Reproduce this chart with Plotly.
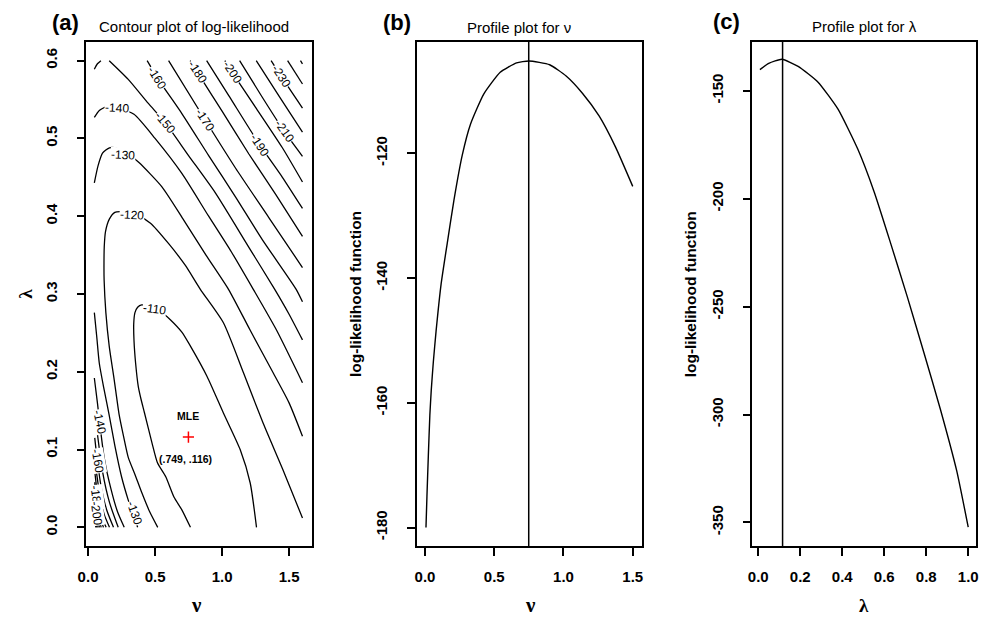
import plotly.graph_objects as go

# ---------------- data ----------------
# Panel (a): contour lines of the log-likelihood, traced as (nu, lambda) points.
# None separates the upper/right piece of a level from its lower-left piece.
c110_nu = [0.764, 0.70, 0.641, 0.58, 0.518, 0.478, 0.42, 0.395, 0.375, 0.355, 0.343, 0.341, 0.35, 0.37,
           0.40, 0.49, 0.56, 0.614, 0.70, 0.764, 0.888, 1.01, 1.135, 1.21, 1.257]
c110_lam = [0.0, 0.0225, 0.039, 0.065, 0.083, 0.108, 0.148, 0.165, 0.181, 0.211, 0.24, 0.262, 0.276, 0.283,
            0.286, 0.282, 0.275, 0.267, 0.251, 0.233, 0.194, 0.147, 0.100, 0.057, 0.0]
c120_nu = [0.52, 0.46, 0.40, 0.35, 0.30, 0.265, 0.232, 0.195, 0.158, 0.133, 0.12, 0.119, 0.121, 0.13, 0.158,
           0.20, 0.28, 0.36, 0.466, 0.60, 0.725, 0.838, 1.01, 1.159, 1.306, 1.454, 1.60]
c120_lam = [0.0, 0.02, 0.045, 0.068, 0.09, 0.117, 0.145, 0.19, 0.233, 0.276, 0.318, 0.34, 0.361, 0.38, 0.396,
            0.405, 0.406, 0.402, 0.391, 0.365, 0.337, 0.306, 0.263, 0.199, 0.134, 0.074, 0.012]
c130_nu = [0.047, 0.075, 0.108, 0.16, 0.22, 0.30, 0.38, 0.55, 0.714, 0.88, 1.048, 1.208, 1.38, 1.5, 1.6, None,
           0.047, 0.065, 0.084, 0.12, 0.157, 0.20, 0.25, 0.30, 0.37]
c130_lam = [0.443, 0.465, 0.481, 0.488, 0.487, 0.48, 0.469, 0.438, 0.395, 0.35, 0.306, 0.254, 0.199, 0.16, 0.117, None,
            0.276, 0.245, 0.211, 0.177, 0.145, 0.105, 0.065, 0.035, 0.0]
c140_nu = [0.047, 0.084, 0.14, 0.22, 0.343, 0.5, 0.7, 0.9, 1.07, 1.233, 1.405, 1.6, None,
           0.047, 0.07, 0.09, 0.12, 0.17, 0.22, 0.27]
c140_lam = [0.527, 0.536, 0.541, 0.539, 0.531, 0.5, 0.455, 0.4, 0.354, 0.306, 0.254, 0.186, None,
            0.192, 0.16, 0.13, 0.09, 0.05, 0.02, 0.0]
c150_nu = [0.047, 0.07, 0.096, None, 0.158, 0.3, 0.45, 0.577, 0.75, 0.95, 1.2, 1.393, 1.5, 1.6, None,
           0.05, 0.07, 0.11, 0.16, 0.225]
c150_lam = [0.589, 0.596, 0.6, None, 0.6, 0.576, 0.545, 0.52, 0.478, 0.43, 0.36, 0.306, 0.274, 0.241, None,
            0.15, 0.12, 0.07, 0.032, 0.0]
c160_nu = [0.441, 0.528, 0.7, 0.9, 1.1, 1.3, 1.553, 1.6, None, 0.05, 0.07, 0.10, 0.14, 0.19]
c160_lam = [0.6, 0.575, 0.532, 0.478, 0.425, 0.37, 0.306, 0.29, None, 0.115, 0.085, 0.05, 0.022, 0.0]
c170_nu = [0.601, 0.873, 1.1, 1.35, 1.6, None, 0.05, 0.065, 0.09, 0.12, 0.16]
c170_lam = [0.6, 0.524, 0.462, 0.398, 0.334, None, 0.09, 0.068, 0.04, 0.017, 0.0]
c180_nu = [0.762, 0.82, 1.0, 1.2, 1.4, 1.6, None, 0.05, 0.065, 0.085, 0.105, 0.135]
c180_lam = [0.6, 0.584, 0.535, 0.48, 0.428, 0.374, None, 0.072, 0.05, 0.028, 0.012, 0.0]
c190_nu = [0.885, 1.05, 1.28, 1.45, 1.6, None, 0.05, 0.06, 0.08, 0.115]
c190_lam = [0.6, 0.555, 0.492, 0.45, 0.41, None, 0.058, 0.042, 0.02, 0.0]
c200_nu = [1.021, 1.075, 1.25, 1.45, 1.6, None, 0.05, 0.06, 0.075, 0.098]
c200_lam = [0.6, 0.585, 0.54, 0.488, 0.444, None, 0.047, 0.032, 0.015, 0.0]
c210_nu = [1.131, 1.3, 1.464, 1.6, None, 0.05, 0.06, 0.085]
c210_lam = [0.6, 0.553, 0.509, 0.477, None, 0.038, 0.022, 0.0]
c220_nu = [1.255, 1.43, 1.6, None, 0.05, 0.058, 0.075]
c220_lam = [0.6, 0.553, 0.508, None, 0.03, 0.016, 0.0]
c230_nu = [1.366, 1.44, 1.6, None, 0.05, 0.056, 0.066]
c230_lam = [0.6, 0.58, 0.539, None, 0.022, 0.011, 0.0]
c240_nu = [1.489, 1.6, None, 0.05, 0.058]
c240_lam = [0.6, 0.570, None, 0.015, 0.0]
c250_nu = [1.585, 1.6]
c250_lam = [0.6, 0.596]

# contour labels (text and the point of the line they sit on)
lab_text = ["-110", "-120", "-130", "-140", "-150", "-160", "-170", "-180", "-190", "-200", "-210", "-230",
            "-140", "-160", "-180", "-200", "-130"]
lab_nu = [0.495, 0.33, 0.262, 0.215, 0.577, 0.515, 0.873, 0.815, 1.28, 1.075, 1.464, 1.44,
          0.085, 0.07, 0.063, 0.06, 0.345]
lab_lam = [0.281, 0.402, 0.479, 0.539, 0.52, 0.578, 0.524, 0.585, 0.492, 0.585, 0.509, 0.58,
           0.135, 0.085, 0.038, 0.018, 0.018]

# maximum likelihood estimate
mle_nu = 0.749
mle_lam = 0.116

# Panel (b): profile log-likelihood for nu
prof_nu = [0.007, 0.014, 0.024, 0.035, 0.045, 0.06, 0.08, 0.116, 0.16, 0.209, 0.269, 0.329, 0.424,
           0.543, 0.661, 0.75, 0.9, 1.019, 1.138, 1.257, 1.376, 1.5]
prof_nu_ll = [-180, -175, -168.5, -162, -158, -153.5, -148.5, -141, -134.5, -127.5, -120.3, -115.3, -110.5,
              -107.0, -105.5, -105.2, -105.8, -107.6, -110.4, -114.0, -119.0, -125.3]

# Panel (c): profile log-likelihood for lambda
prof_lam = [0.008, 0.05, 0.113, 0.19, 0.285, 0.38, 0.474, 0.553, 0.631, 0.71, 0.788, 0.867, 0.945, 1.0]
prof_lam_ll = [-140.2, -137.3, -135.4, -138.7, -146, -158.5, -177, -197.1, -220.8, -245.5, -271,
               -297.4, -326, -352.2]

ticks_a_x = [0.0, 0.5, 1.0, 1.5]
ticks_a_y = [0.0, 0.1, 0.2, 0.3, 0.4, 0.5, 0.6]
ticks_b_x = [0.0, 0.5, 1.0, 1.5]
ticks_b_y = [-180, -160, -140, -120]
ticks_c_x = [0.0, 0.2, 0.4, 0.6, 0.8, 1.0]
ticks_c_y = [-350, -300, -250, -200, -150]

# ---------------- figure ----------------
W, H = 989, 617
SANS = "Liberation Sans, Arial, sans-serif"
SERIF = "Liberation Serif, Times New Roman, serif"

contours = [
    (c110_nu, c110_lam), (c120_nu, c120_lam), (c130_nu, c130_lam), (c140_nu, c140_lam),
    (c150_nu, c150_lam), (c160_nu, c160_lam), (c170_nu, c170_lam), (c180_nu, c180_lam),
    (c190_nu, c190_lam), (c200_nu, c200_lam), (c210_nu, c210_lam), (c220_nu, c220_lam),
    (c230_nu, c230_lam), (c240_nu, c240_lam), (c250_nu, c250_lam),
]
lab_angle = [8, 3, 3, 3, 50, 58, 57, 57, 57, 57, 55, 57, 78, 80, 82, 82, 70]

fig = go.Figure()
for xs, ys in contours:
    fig.add_trace(go.Scatter(x=xs, y=ys, mode="lines", xaxis="x", yaxis="y",
                             line=dict(color="black", width=1.3, shape="spline", smoothing=0.6),
                             connectgaps=False, hoverinfo="skip", showlegend=False))

fig.add_trace(go.Scatter(x=[mle_nu], y=[mle_lam], mode="markers", xaxis="x", yaxis="y",
                         marker=dict(symbol="cross-thin", size=8, line=dict(color="red", width=1.5)),
                         showlegend=False, hoverinfo="skip"))

fig.add_trace(go.Scatter(x=prof_nu, y=prof_nu_ll, mode="lines", xaxis="x2", yaxis="y2",
                         line=dict(color="black", width=1.4, shape="spline", smoothing=0.5),
                         showlegend=False, hoverinfo="skip"))
fig.add_trace(go.Scatter(x=prof_lam, y=prof_lam_ll, mode="lines", xaxis="x3", yaxis="y3",
                         line=dict(color="black", width=1.4, shape="spline", smoothing=0.5),
                         showlegend=False, hoverinfo="skip"))

# MLE reference lines in profile plots
fig.add_shape(type="line", xref="x2", yref="y2 domain", x0=mle_nu, x1=mle_nu, y0=0, y1=1,
              line=dict(color="black", width=1.5))
fig.add_shape(type="line", xref="x3", yref="y3 domain", x0=mle_lam, x1=mle_lam, y0=0, y1=1,
              line=dict(color="black", width=1.5))

ann = []
for t, x, y, a in zip(lab_text, lab_nu, lab_lam, lab_angle):
    ann.append(dict(x=x, y=y, xref="x", yref="y", text=t, showarrow=False, textangle=a,
                    font=dict(family=SANS, size=12, color="black"), bgcolor="white", borderpad=0))
ann.append(dict(x=mle_nu, y=mle_lam, xref="x", yref="y", text="<b>MLE</b>", showarrow=False,
                yshift=21, font=dict(family=SANS, size=10.5, color="black")))
ann.append(dict(x=mle_nu, y=mle_lam, xref="x", yref="y",
                text=f"<b>(.{round(mle_nu*1000)}, .{round(mle_lam*1000)})</b>",
                showarrow=False, yshift=-22, xshift=-3, font=dict(family=SANS, size=10.5, color="black")))


def px(x, y):
    return x / W, 1 - y / H


def txt(x, y, text, size, bold=False, family=SANS, angle=0):
    xx, yy = px(x, y)
    ann.append(dict(x=xx, y=yy, xref="paper", yref="paper", text=(f"<b>{text}</b>" if bold else text),
                    showarrow=False, textangle=angle, xanchor="center", yanchor="middle",
                    font=dict(family=family, size=size, color="black")))


txt(57, 23, "(a)", 22, bold=True)
txt(392, 23, "(b)", 22, bold=True)
txt(726, 22, "(c)", 22, bold=True)
txt(187, 26, "Contour plot of log-likelihood", 15)
txt(516, 27, "Profile plot for ν", 15)
txt(865, 26, "Profile plot for λ", 15)
txt(190, 605, "ν", 21, bold=True, family=SERIF)
txt(527, 605, "ν", 21, bold=True, family=SERIF)
txt(865, 605, "λ", 19, bold=True, family=SERIF)
txt(16, 294, "λ", 19, bold=True, family=SERIF, angle=-90)
txt(350, 294, "log-likelihood function", 15.5, bold=True, angle=-90)
txt(689, 294, "log-likelihood function", 15.5, bold=True, angle=-90)

ydom = [1 - 546 / H, 1 - 42 / H]
axis_common = dict(showline=True, mirror=True, linecolor="black", linewidth=1.5, ticks="outside",
                   ticklen=8, tickwidth=1.5, tickcolor="black", showgrid=False, zeroline=False,
                   tickfont=dict(family=SANS, size=15, color="black"))


def xax(dom, rng, tv, fmt):
    return dict(domain=dom, range=rng, tickvals=tv, ticktext=[fmt.format(v) for v in tv],
                ticklabelstandoff=8, **axis_common)


def yax(anchor, rng, tv, fmt):
    return dict(domain=ydom, range=rng, anchor=anchor, tickvals=tv, ticktext=[fmt.format(v) for v in tv],
                tickangle=-90, ticklabelstandoff=14, **axis_common)


fig.update_layout(
    width=W, height=H, margin=dict(l=0, r=0, t=0, b=0),
    paper_bgcolor="white", plot_bgcolor="white", showlegend=False,
    xaxis=dict(anchor="y", **xax([78.3 / W, 306 / W], [-0.012, 1.668], ticks_a_x, "<b>{:.1f}</b>")),
    yaxis=yax("x", [-0.024, 0.624], ticks_a_y, "<b>{:.1f}</b>"),
    xaxis2=dict(anchor="y2", **xax([412.7 / W, 640 / W], [-0.057, 1.566], ticks_b_x, "<b>{:.1f}</b>")),
    yaxis2=yax("x2", [-182.95, -102.15], ticks_b_y, "<b>{:d}</b>"),
    xaxis3=dict(anchor="y3", **xax([751.7 / W, 978.3 / W], [-0.028, 1.039], ticks_c_x, "<b>{:.1f}</b>")),
    yaxis3=yax("x3", [-360.9, -127.4], ticks_c_y, "<b>{:d}</b>"),
    annotations=ann,
)

fig.write_html("out.html", config={"displayModeBar": False},
               post_script="document.body.style.margin='0px';document.body.style.padding='0px';")
